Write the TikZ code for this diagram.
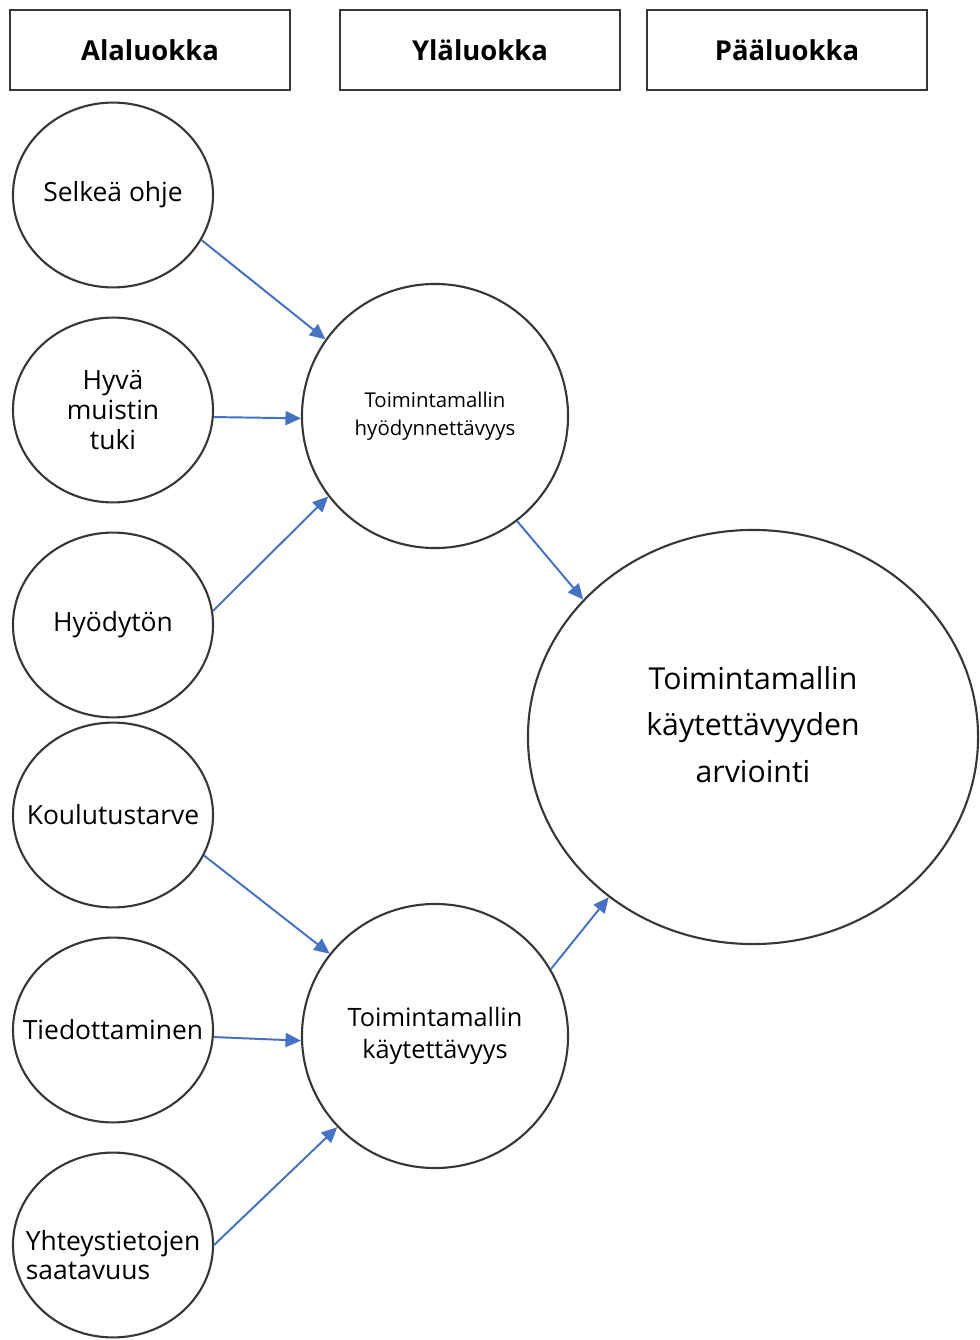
\documentclass[tikz,border=0pt]{standalone}
\usepackage{fontspec}
\setmainfont{Open Sans}
\usetikzlibrary{shapes.geometric, arrows.meta}
\definecolor{arrowblue}{RGB}{68, 114, 196}
\definecolor{rim}{RGB}{55, 55, 55}

\begin{document}
\begin{tikzpicture}[x=0.025cm, y=-0.025cm,
    header/.style={draw=rim, line width=1.5pt, minimum width=7cm, minimum height=2cm,
                   font=\fontsize{19.5}{20}\selectfont\bfseries},
    sub/.style={ellipse, draw=rim, line width=1.5pt, minimum width=5cm,
                minimum height=4.62cm, inner sep=0pt},
    subtext/.style={font=\fontsize{18.8}{21}\selectfont, align=center},
    upper/.style={ellipse, draw=rim, line width=1.5pt, minimum width=6.65cm,
                  minimum height=6.6cm, inner sep=0pt, align=center},
    main/.style={ellipse, draw=rim, line width=1.5pt, minimum width=11.25cm,
                 minimum height=10.35cm, inner sep=0pt},
    link/.style={-{Triangle[length=11pt,width=10pt]}, arrowblue, line width=1.4pt}
]
    \useasboundingbox (0,0) rectangle (979,1340);

    % column headers
    \node[header] (ala) at (150,50) {Alaluokka};
    \node[header] (yla) at (480,50) {Yläluokka};
    \node[header] (paa) at (787,50) {Pääluokka};

    % alaluokat
    \node[sub, label={[subtext]center:Selkeä ohje}] (selkea) at (113,195) {};
    \node[sub, label={[subtext]center:Hyvä\\muistin\\tuki}] (muisti) at (113,410) {};
    \node[sub, label={[subtext]center:Hyödytön}] (hyodyton) at (113,625) {};
    \node[sub, label={[subtext]center:Koulutustarve}] (koulutus) at (113,815) {};
    \node[sub, label={[subtext]center:Tiedottaminen}] (tiedotus) at (113,1030) {};
    \node[sub, label={[subtext, align=left, yshift=-7pt]center:Yhteystietojen\\saatavuus}] (yhteys) at (113,1245) {};

    % yläluokat
    \node[upper, font=\fontsize{14.5}{20}\selectfont] (hyoty) at (435,416) {Toimintamallin\\hyödynnettävyys};
    \node[upper, font=\fontsize{18}{23}\selectfont] (kaytto) at (435,1036) {Toimintamallin\\käytettävyys};

    % pääluokka
    \node[main, label={[font=\fontsize{21.5}{33}\selectfont, align=center, yshift=9pt]center:Toimintamallin\\käytettävyyden\\arviointi}] (arvio) at (753,737) {};

    \draw[link] (selkea.-27) -- (hyoty.145);
    \draw[link] (muisti.-4) -- (hyoty.181);
    \draw[link] (hyodyton.8) -- (hyoty.217);
    \draw[link] (koulutus.-24) -- (kaytto.142);
    \draw[link] (tiedotus.-4) -- (kaytto.182);
    \draw[link] (yhteys.0) -- (kaytto.223);
    \draw[link] (hyoty.-52) -- (arvio.141);
    \draw[link] (kaytto.30) -- (arvio.228);
\end{tikzpicture}
\end{document}
